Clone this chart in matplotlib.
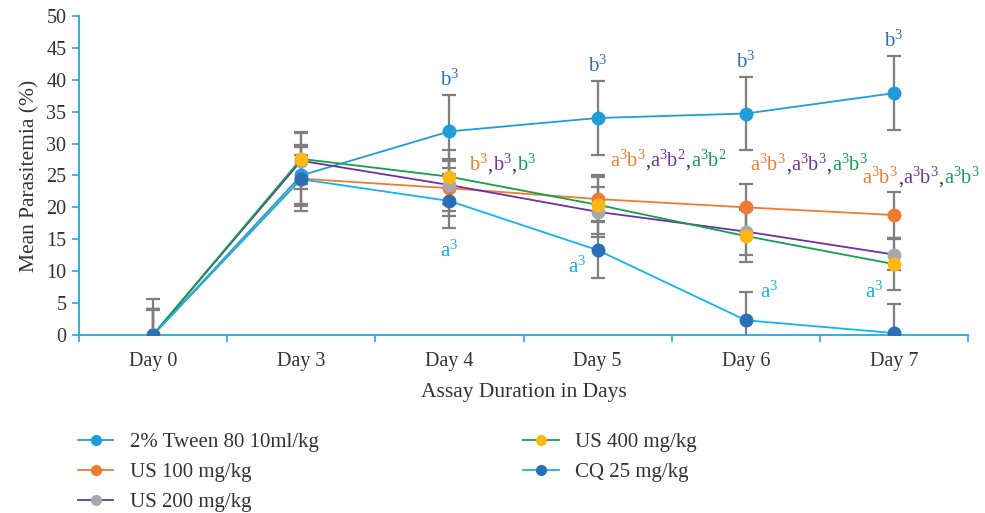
import matplotlib
matplotlib.use("Agg")
import matplotlib.pyplot as plt
from matplotlib.lines import Line2D
from matplotlib.offsetbox import TextArea, HPacker, AnnotationBbox

plt.rcParams['font.family'] = ['Liberation Serif', 'DejaVu Serif']
plt.rcParams['mathtext.fontset'] = 'custom'
plt.rcParams['mathtext.rm'] = 'Liberation Serif'
plt.rcParams['mathtext.it'] = 'Liberation Serif:italic'

days = ["Day 0", "Day 3", "Day 4", "Day 5", "Day 6", "Day 7"]
series_names = ["2% Tween 80 10ml/kg", "US 100 mg/kg", "US 200 mg/kg", "US 400 mg/kg", "CQ 25 mg/kg"]

tween = [0, 25.0, 31.9, 34.0, 34.7, 37.9]
us100 = [0, 24.5, 23.0, 21.3, 20.0, 18.8]
us200 = [0, 27.3, 23.5, 19.3, 16.2, 12.6]
us400 = [0, 27.6, 24.8, 20.4, 15.5, 11.1]
cq25 = [0, 24.4, 21.0, 13.3, 2.3, 0.3]

tween_sd = [5.7, 4.8, 5.7, 5.8, 5.7, 5.8]
us100_sd = [4.0, 5.0, 4.3, 3.5, 3.7, 3.6]
us200_sd = [4.1, 4.5, 4.0, 3.9, 3.7, 2.4]
us400_sd = [3.9, 4.0, 4.2, 4.6, 4.1, 4.1]
cq25_sd = [4.0, 3.8, 4.2, 4.4, 4.4, 4.5]

line_colors = ["#1f9ddb", "#f07b2f", "#7030a0", "#11a04c", "#12b4ee"]
marker_colors = ["#1f9ddb", "#f07b2f", "#a8a8a8", "#fdb813", "#2a6fb8"]

values = [tween, us100, us200, us400, cq25]
sds = [tween_sd, us100_sd, us200_sd, us400_sd, cq25_sd]

# annotation texts
tween_labels = ["", "", "b$^{3}$", "b$^{3}$", "b$^{3}$", "b$^{3}$"]
cq_labels = ["", "", "a$^{3}$", "a$^{3}$", "a$^{3}$", "a$^{3}$"]
group_labels = {
    2: ["b$^{3}$", "b$^{3}$", "b$^{3}$"],
    3: ["a$^{3}$b$^{3}$", "a$^{3}$b$^{2}$", "a$^{3}$b$^{2}$"],
    4: ["a$^{3}$b$^{3}$", "a$^{3}$b$^{3}$", "a$^{3}$b$^{3}$"],
    5: ["a$^{3}$b$^{3}$", "a$^{3}$b$^{3}$", "a$^{3}$b$^{3}$"],
}

fig = plt.figure(figsize=(9.85, 5.13), dpi=100)
ax = fig.add_axes([0.080, 0.347, 0.903, 0.622])

x = list(range(len(days)))
err_color = "#7f7f7f"
for vals, sd in zip(values, sds):
    ax.errorbar(x, vals, yerr=sd, fmt='none', ecolor=err_color, elinewidth=1.6,
                capsize=5, capthick=1.6, zorder=2)
for vals, lc, mc in zip(values, line_colors, marker_colors):
    ax.plot(x, vals, color=lc, lw=1.3, marker='o', markersize=9,
            markerfacecolor=mc, markeredgecolor=mc, zorder=3)

ax.set_xlim(-0.5, 5.5)
ax.set_ylim(0, 50)
ax.set_yticks(range(0, 51, 5))
ax.set_xticks(x)
ax.set_xticklabels(days)
ax.set_xticks([i - 0.5 for i in range(len(days) + 1)], minor=True)
ax.tick_params(axis='x', which='major', length=0, pad=12)
ax.tick_params(axis='x', which='minor', length=5, color="#1ea8e6", width=1.2)
ax.tick_params(axis='y', length=5, color="#1ea8e6", width=1.2, pad=4)
ax.tick_params(labelsize=14.5, labelcolor="#333333")
for s in ['top', 'right']:
    ax.spines[s].set_visible(False)
for s in ['left', 'bottom']:
    ax.spines[s].set_color("#1ea8e6")
    ax.spines[s].set_linewidth(1.3)

ax.set_ylabel("Mean Parasitemia (%)", fontsize=15.5, color="#333333", labelpad=5)
ax.set_xlabel("Assay Duration in Days", fontsize=15.5, color="#333333", labelpad=9)

fs = 15
dark_blue = "#2a6fb8"
cyan = "#12b4ee"

# Tween labels above error bars
for i, lab in enumerate(tween_labels):
    if lab:
        ax.annotate(lab, xy=(i, tween[i] + tween_sd[i]), xytext=(0, 3),
                    textcoords='offset points', ha='center', va='bottom',
                    fontsize=fs, color=dark_blue)

# CQ labels
cq_offsets = {2: (0, -9, 'center', 'top', -1), 3: (-8, 0, 'right', 'center', 0),
              4: (10, 0, 'left', 'center', 1), 5: (-8, 1, 'right', 'bottom', 1)}
for i, lab in enumerate(cq_labels):
    if lab:
        dx, dy, ha, va, side = cq_offsets[i]
        if side == -1:
            yy = cq25[i] - cq25_sd[i]
        elif side == 1:
            yy = cq25[i] + cq25_sd[i]
        else:
            yy = cq25[i] - 2.6
        ax.annotate(lab, xy=(i, yy), xytext=(dx, dy), textcoords='offset points',
                    ha=ha, va=va, fontsize=fs, color=cyan)

# group multi-colour labels
group_pos = {2: (2.13, 26.6), 3: (3.08, 27.3), 4: (4.03, 26.6), 5: (4.785, 24.6)}
grp_colors = [line_colors[1], line_colors[2], line_colors[3]]
for i, parts in group_labels.items():
    boxes = []
    for k, (p, c) in enumerate(zip(parts, grp_colors)):
        boxes.append(TextArea(p, textprops=dict(color=c, fontsize=14.6)))
        if k < len(parts) - 1:
            boxes.append(TextArea(",", textprops=dict(color="#333333", fontsize=14.6)))
    pack = HPacker(children=boxes, align="baseline", pad=0, sep=0)
    ab = AnnotationBbox(pack, group_pos[i], xycoords='data', box_alignment=(0, 0.5),
                        frameon=False, pad=0)
    ax.add_artist(ab)

handles = [Line2D([0], [0], color=lc, lw=1.3, marker='o', markersize=7,
                  markerfacecolor=mc, markeredgecolor=mc)
           for lc, mc in zip(line_colors, marker_colors)]
fig.legend(handles, series_names, loc='upper left', bbox_to_anchor=(0.075, 0.165),
           ncol=2, frameon=False, fontsize=15, columnspacing=9.8, handlelength=1.7,
           labelspacing=0.5, handletextpad=0.8, labelcolor="#333333",
           borderaxespad=0, borderpad=0.2)

fig.savefig("out.png", dpi=100)
